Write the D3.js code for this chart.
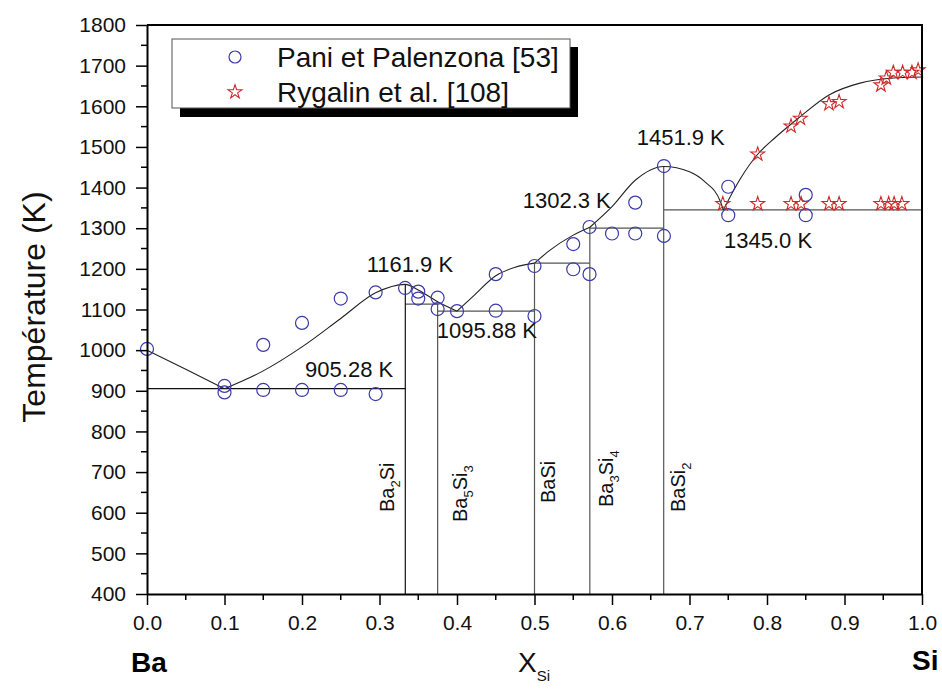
<!DOCTYPE html>
<html><head><meta charset="utf-8">
<script src="https://cdn.jsdelivr.net/npm/d3@7"></script>
<style>body{margin:0;background:#fff}svg{display:block}text{font-family:"Liberation Sans",Arial,sans-serif}</style>
</head><body><svg id="c" width="942" height="689"></svg>
<script>
// ---- data ----
const xTicks = [0,0.1,0.2,0.3,0.4,0.5,0.6,0.7,0.8,0.9,1.0];
const yTicks = [400,500,600,700,800,900,1000,1100,1200,1300,1400,1500,1600,1700,1800];
const paniX = [0,0.1,0.1,0.15,0.15,0.2,0.2,0.25,0.25,0.295,0.295,0.333,0.35,0.35,0.375,0.375,0.4,0.45,0.45,0.5,0.5,0.55,0.55,0.571,0.571,0.6,0.63,0.63,0.667,0.667,0.75,0.75,0.85,0.85];
const paniT = [1003,912,896,1013,902,1067,902,1127,902,1142,892,1153,1144,1127,1129,1101,1096,1187,1097,1207,1084,1261,1199,1303,1187,1287,1363,1287,1453,1281,1402,1332,1382,1332];
const rygX = [0.743,0.788,0.831,0.844,0.880,0.893,0.947,0.957,0.964,0.974,0.788,0.831,0.843,0.880,0.893,0.947,0.954,0.963,0.975,0.987,0.995];
const rygT = [1360,1360,1360,1360,1360,1360,1360,1360,1360,1360,1482,1551,1570,1606,1611,1652,1669,1683,1683,1683,1689];
const liqSeg1 = [[0,1000],[0.05,953],[0.1,905.28]];
const liqSeg2 = [[0.1,905.28],[0.15,949],[0.2,1008],[0.25,1078],[0.295,1141],[0.3333,1161.9],[0.35,1148],[0.375,1119],[0.4,1095.88]];
const liqSeg3 = [[0.4,1095.88],[0.42,1131],[0.45,1183],[0.475,1204],[0.5,1214]];
const liqSeg4 = [[0.5,1214],[0.52,1246],[0.55,1283],[0.5714,1302.3]];
const liqSeg5 = [[0.5714,1302.3],[0.6,1353],[0.63,1418],[0.6667,1451.9],[0.7,1439],[0.72,1414],[0.74,1365],[0.7436,1345]];
const liqSeg6 = [[0.7436,1345],[0.765,1420],[0.788,1482],[0.81,1522],[0.84,1570],[0.88,1628],[0.92,1657],[0.96,1669],[1.0,1672]];
const invariantLines = [[0,0.3333,905.28],[0.3333,0.375,1113],[0.375,0.5,1095.88],[0.5,0.5714,1214],[0.5714,0.6667,1300],[0.6667,1.0,1345.0]];
const compoundX = [0.3333,0.375,0.5,0.5714,0.6667];
const compoundTop = [1161.9,1113,1214,1302.3,1451.9];
const compoundMain = [["Ba","Si"],["Ba","Si"],["BaSi",""],["Ba","Si"],["BaSi",""]];
const compoundSub = [["2",""],["5","3"],["",""],["3","4"],["2",""]];
const tempLabels = ["905.28 K","1161.9 K","1095.88 K","1302.3 K","1451.9 K","1345.0 K"];
const tempLabelX = [0.204,0.2835,0.3738,0.4848,0.6319,0.7445];
const tempLabelT = [934,1193,1030.5,1349,1504.7,1251];
const legendNames = ["Pani et Palenzona [53]","Rygalin et al. [108]"];

// ---- drawing ----
const svg = d3.select("#c");
const x = d3.scaleLinear().domain([0,1]).range([147,922]);
const y = d3.scaleLinear().domain([400,1800]).range([594,25]);
const blue = "#3a3aa8", red = "#d02828";

// invariant horizontal lines
svg.append("g").selectAll("line").data(invariantLines).join("line")
  .attr("x1",d=>x(d[0])).attr("x2",d=>x(d[1])).attr("y1",d=>y(d[2])).attr("y2",d=>y(d[2]))
  .attr("stroke",(d,i)=>i===0?"#111":"#555").attr("stroke-width",1.2);
// compound vertical lines
svg.append("g").selectAll("line").data(compoundX).join("line")
  .attr("x1",d=>x(d)).attr("x2",d=>x(d)).attr("y1",(d,i)=>y(compoundTop[i])).attr("y2",y(400))
  .attr("stroke",(d,i)=>i===0?"#111":"#555").attr("stroke-width",1.2);

// liquidus
const line = d3.line().x(d=>x(d[0])).y(d=>y(d[1])).curve(d3.curveMonotoneX);
svg.append("g").selectAll("path").data([liqSeg1,liqSeg2,liqSeg3,liqSeg4,liqSeg5,liqSeg6]).join("path")
  .attr("d",line).attr("fill","none").attr("stroke","#222").attr("stroke-width",1.1);

// compound labels (rotated)
const labOff = [-11,29,20,23,21];
const labBottom = [512,522,503,507,512];
compoundX.forEach((cx,i)=>{
  const t = svg.append("text").attr("transform",`translate(${x(cx)+labOff[i]},${labBottom[i]}) rotate(-90)`)
    .attr("font-size",20).attr("fill","#111");
  t.append("tspan").text(compoundMain[i][0]);
  if(compoundSub[i][0]) t.append("tspan").attr("font-size",13).attr("dy",6).text(compoundSub[i][0]);
  if(compoundMain[i][1]) t.append("tspan").attr("dy",compoundSub[i][0]?-6:0).text(compoundMain[i][1]);
  if(compoundSub[i][1]) t.append("tspan").attr("font-size",13).attr("dy",6).text(compoundSub[i][1]);
});

// temperature labels
svg.append("g").selectAll("text").data(tempLabels).join("text")
  .attr("x",(d,i)=>x(tempLabelX[i])).attr("y",(d,i)=>y(tempLabelT[i]))
  .attr("font-size",22).attr("fill","#111").text(d=>d);

// data points
svg.append("g").selectAll("circle").data(paniX).join("circle")
  .attr("cx",d=>x(d)).attr("cy",(d,i)=>y(paniT[i])).attr("r",6.5)
  .attr("fill","none").attr("stroke",blue).attr("stroke-width",1.2);
const star = d3.symbol(d3.symbolStar).size(60);
svg.append("g").selectAll("path").data(rygX).join("path")
  .attr("transform",(d,i)=>`translate(${x(d)},${y(rygT[i])})`).attr("d",star)
  .attr("fill","none").attr("stroke",red).attr("stroke-width",1.1);

// axes
const ax = svg.append("g").attr("transform",`translate(0,${y(400)})`)
  .call(d3.axisBottom(x).tickValues(xTicks).tickFormat(d3.format(".1f")).tickSize(11).tickPadding(10).tickSizeOuter(0));
const ay = svg.append("g").attr("transform",`translate(${x(0)},0)`)
  .call(d3.axisLeft(y).tickValues(yTicks).tickFormat(d3.format("d")).tickSize(11).tickPadding(10).tickSizeOuter(0));
[ax,ay].forEach(g=>{
  g.select(".domain").attr("stroke","#000").attr("stroke-width",2);
  g.selectAll(".tick line").attr("stroke","#000").attr("stroke-width",1.5);
  g.selectAll(".tick text").attr("font-size",21).attr("fill","#111").attr("font-family","Liberation Sans, Arial, sans-serif");
});
// minor ticks
const xMinor = xTicks.slice(0,-1).map(v=>v+0.05);
const yMinor = yTicks.slice(0,-1).map(v=>v+50);
svg.append("g").selectAll("line").data(xMinor).join("line")
  .attr("x1",d=>x(d)).attr("x2",d=>x(d)).attr("y1",y(400)).attr("y2",y(400)+6)
  .attr("stroke","#000").attr("stroke-width",1.5);
svg.append("g").selectAll("line").data(yMinor).join("line")
  .attr("y1",d=>y(d)).attr("y2",d=>y(d)).attr("x1",x(0)).attr("x2",x(0)-6)
  .attr("stroke","#000").attr("stroke-width",1.5);
// frame top/right
svg.append("path").attr("d",`M${x(0)},${y(1800)}H${x(1)}V${y(400)}`).attr("fill","none").attr("stroke","#000").attr("stroke-width",2);

// axis titles
svg.append("text").attr("transform",`translate(45,${y(1106)}) rotate(-90)`).attr("text-anchor","middle")
  .attr("font-size",32).attr("fill","#111").text("Température (K)");
const xt = svg.append("text").attr("x",518).attr("y",672).attr("font-size",28).attr("fill","#111");
xt.append("tspan").text("X");
xt.append("tspan").attr("font-size",15).attr("dy",9).text("Si");
svg.append("text").attr("x",131).attr("y",672).attr("font-size",28).attr("font-weight","bold").text("Ba");
svg.append("text").attr("x",912).attr("y",670).attr("font-size",28).attr("font-weight","bold").text("Si");

// legend
const lg = svg.append("g");
lg.append("rect").attr("x",180).attr("y",47).attr("width",398).attr("height",70).attr("fill","#000");
lg.append("rect").attr("x",172).attr("y",39).attr("width",398).attr("height",69).attr("fill","#fff").attr("stroke","#555").attr("stroke-width",1);
lg.append("circle").attr("cx",235).attr("cy",57).attr("r",6).attr("fill","none").attr("stroke",blue).attr("stroke-width",1.2);
lg.append("path").attr("transform","translate(235,92)").attr("d",star).attr("fill","none").attr("stroke",red).attr("stroke-width",1.1);
lg.selectAll("text.l").data(legendNames).join("text").attr("class","l")
  .attr("x",277).attr("y",(d,i)=>67+i*35).attr("font-size",28).attr("fill","#111").text(d=>d);
</script></body></html>
